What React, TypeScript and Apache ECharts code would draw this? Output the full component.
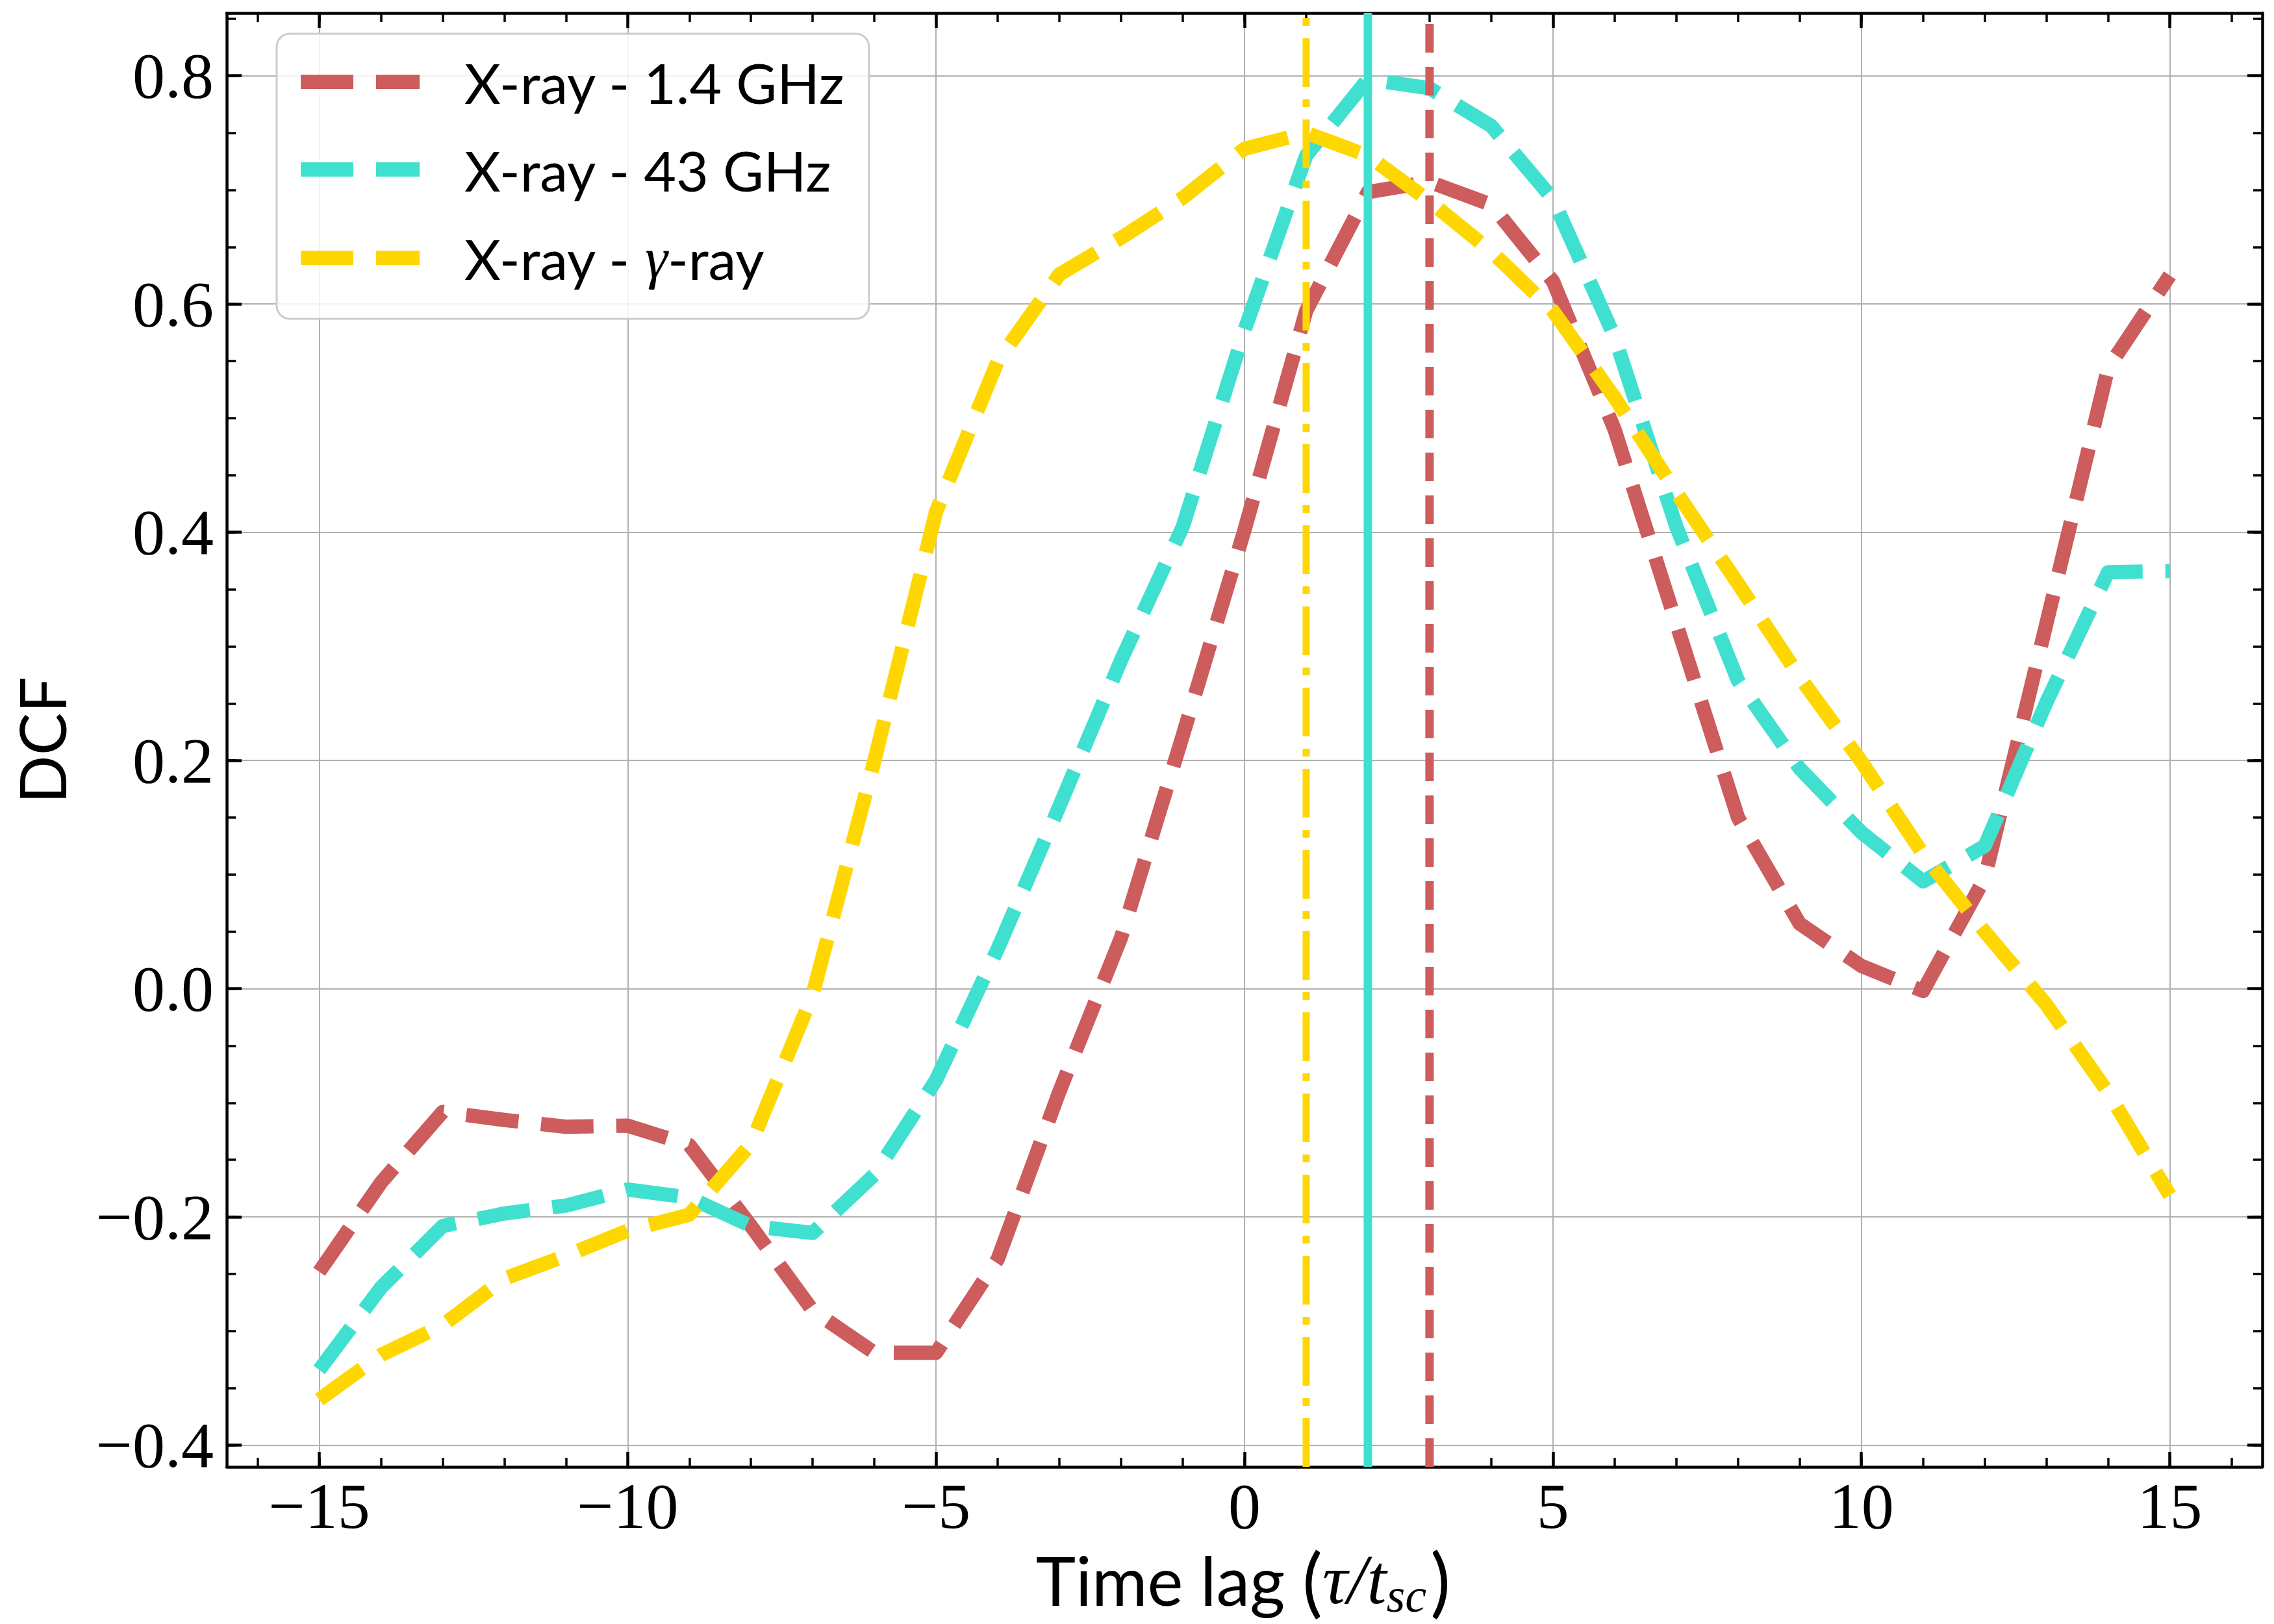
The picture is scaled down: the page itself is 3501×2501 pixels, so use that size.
import React, { useEffect, useRef } from "react";
import * as echarts from "echarts";

// ---- data ----
const lags = [-15, -14, -13, -12, -11, -10, -9, -8, -7, -6, -5, -4, -3, -2, -1, 0, 1, 2, 3, 4, 5, 6, 7, 8, 9, 10, 11, 12, 13, 14, 15];
const dcfXray14GHz = [-0.248, -0.17, -0.108, -0.115, -0.121, -0.12, -0.137, -0.208, -0.282, -0.319, -0.319, -0.237, -0.09, 0.045, 0.222, 0.402, 0.594, 0.698, 0.707, 0.687, 0.62, 0.49, 0.32, 0.15, 0.057, 0.02, -0.002, 0.097, 0.32, 0.544, 0.625];
const dcfXray43GHz = [-0.334, -0.262, -0.208, -0.197, -0.19, -0.176, -0.183, -0.208, -0.214, -0.163, -0.08, 0.035, 0.16, 0.288, 0.405, 0.577, 0.73, 0.797, 0.789, 0.756, 0.692, 0.571, 0.405, 0.27, 0.193, 0.137, 0.094, 0.125, 0.251, 0.365, 0.366];
const dcfXrayGamma = [-0.36, -0.321, -0.295, -0.254, -0.234, -0.212, -0.198, -0.136, -0.005, 0.2, 0.418, 0.55, 0.626, 0.658, 0.693, 0.736, 0.75, 0.73, 0.69, 0.646, 0.594, 0.518, 0.435, 0.355, 0.273, 0.199, 0.118, 0.05, -0.014, -0.091, -0.181];
const seriesNames = ["X-ray - 1.4 GHz", "X-ray - 43 GHz", "X-ray - \u03b3-ray"];
const peakLag14GHz = 3;
const peakLag43GHz = 2;
const peakLagGamma = 1;

// ---- axes ----
const xLimits = [-16.5, 16.5];
const yLimits = [-0.419, 0.855];
const xMajorTicks = [-15, -10, -5, 0, 5, 10, 15];
const xMinorTicks = [-16, -15, -14, -13, -12, -11, -10, -9, -8, -7, -6, -5, -4, -3, -2, -1, 0, 1, 2, 3, 4, 5, 6, 7, 8, 9, 10, 11, 12, 13, 14, 15, 16];
const yMajorTicks = [-0.4, -0.2, 0.0, 0.2, 0.4, 0.6, 0.8];
const yMinorTicks = [-0.4, -0.35, -0.3, -0.25, -0.2, -0.15, -0.1, -0.05, 0.0, 0.05, 0.1, 0.15, 0.2, 0.25, 0.3, 0.35, 0.4, 0.45, 0.5, 0.55, 0.6, 0.65, 0.7, 0.75, 0.8, 0.85];

const RED = "#cd5c5c";
const CYAN = "#40e0d0";
const GOLD = "#ffd700";

const SERIF = "'Liberation Serif', 'DejaVu Serif', serif";
const SANS = "Lato, 'Noto Sans', sans-serif";

const minus = (s: string) => s.replace("-", "\u2212");

function App() {
  const ref = useRef<HTMLDivElement>(null);

  useEffect(() => {
    if (!ref.current) return;
    const chart = echarts.init(ref.current, null, { renderer: "svg" });

    const gridLeft = 349;
    const gridRight = 18;
    const gridTop = 20;
    const gridBottom = 242;

    const baseAxis = (pos: string, ticks: number[], major: boolean, showLine: boolean) => ({
      type: "value",
      position: pos,
      min: pos === "left" || pos === "right" ? yLimits[0] : xLimits[0],
      max: pos === "left" || pos === "right" ? yLimits[1] : xLimits[1],
      axisLine: { show: showLine, onZero: false, lineStyle: { color: "#000", width: 4.5 } },
      axisTick: {
        show: true,
        inside: true,
        length: major ? 23 : 14,
        customValues: ticks,
        lineStyle: { color: "#000", width: major ? 4.5 : 3.5 },
      },
      axisLabel: { show: false },
      splitLine: { show: false },
      minorTick: { show: false },
    });

    const xBottomMain: any = baseAxis("bottom", xMajorTicks, true, true);
    xBottomMain.axisLabel = {
      show: true,
      customValues: xMajorTicks,
      formatter: (v: number) => minus(String(v)),
      fontFamily: SERIF,
      fontSize: 100,
      color: "#000",
      margin: 10,
    };
    xBottomMain.splitLine = { show: true, lineStyle: { color: "#b0b0b0", width: 2 } };

    const yLeftMain: any = baseAxis("left", yMajorTicks, true, true);
    yLeftMain.axisLabel = {
      show: true,
      customValues: yMajorTicks,
      formatter: (v: number) => minus(v.toFixed(1) === "-0.0" ? "0.0" : v.toFixed(1)),
      fontFamily: SERIF,
      fontSize: 100,
      color: "#000",
      margin: 20,
    };
    yLeftMain.splitLine = { show: true, lineStyle: { color: "#b0b0b0", width: 2 } };

    const xAxes = [
      xBottomMain,
      baseAxis("bottom", xMinorTicks, false, false),
      baseAxis("top", xMajorTicks, true, true),
      baseAxis("top", xMinorTicks, false, false),
    ];
    const yAxes = [
      yLeftMain,
      baseAxis("left", yMinorTicks, false, false),
      baseAxis("right", yMajorTicks, true, true),
      baseAxis("right", yMinorTicks, false, false),
    ];

    const curve = (name: string, vals: number[], color: string) => ({
      type: "line",
      name,
      data: lags.map((x, i) => [x, vals[i]]),
      symbol: "none",
      showSymbol: false,
      xAxisIndex: 0,
      yAxisIndex: 0,
      lineStyle: { color, width: 22, type: [81, 35], cap: "butt", join: "round" },
      itemStyle: { color },
      z: 3,
    });

    const vline = (name: string, x: number, color: string, width: number, dash: any) => ({
      type: "line",
      name,
      data: [
        [x, yLimits[0]],
        [x, yLimits[1]],
      ],
      symbol: "none",
      showSymbol: false,
      xAxisIndex: 0,
      yAxisIndex: 0,
      lineStyle: { color, width, type: dash, cap: "butt" },
      itemStyle: { color },
      z: 4,
    });

    // legend handle: two dashes of a dashed line (81 on, 35 off, 67 on)
    const dashIcon = "path://M0,0h81v22h-81z M116,0h67v22h-67z";

    const option: any = {
      animation: false,
      backgroundColor: "#ffffff",
      grid: {
        left: gridLeft,
        right: gridRight,
        top: gridTop,
        bottom: gridBottom,
        containLabel: false,
        outerBoundsMode: "none",
      },
      xAxis: xAxes,
      yAxis: yAxes,
      legend: {
        data: seriesNames.map((n) => ({ name: n, icon: dashIcon })),
        orient: "vertical",
        left: 426,
        top: 52,
        padding: [31, 36, 50, 37],
        itemWidth: 183,
        itemHeight: 22,
        itemGap: 49,
        backgroundColor: "rgba(255,255,255,0.85)",
        borderColor: "#cccccc",
        borderWidth: 3,
        borderRadius: 20,
        selectedMode: false,
        formatter: (name: string) =>
          name.indexOf("\u03b3") >= 0 ? "{a|X-ray - }{g|\u03b3}{a|-ray}" : "{a|" + name + "}",
        textStyle: {
          color: "#000",
          padding: [0, 0, 0, 64],
          rich: {
            a: { fontFamily: SANS, fontSize: 86, lineHeight: 100, color: "#000" },
            g: { fontFamily: SERIF, fontStyle: "italic", fontSize: 88, lineHeight: 100, color: "#000" },
          },
        },
      },
      graphic: [
        {
          type: "text",
          x: 64,
          y: 1140,
          rotation: Math.PI / 2,
          style: {
            text: "DCF",
            font: "98px " + SANS,
            lineHeight: 98,
            fill: "#000",
            align: "center",
            verticalAlign: "middle",
          },
        },
        {
          type: "text",
          x: 1914,
          y: 2432,
          style: {
            text: "{s|Time lag }{p|(}{m|\u03c4/t}{sub|sc}{p|)}",
            align: "center",
            verticalAlign: "middle",
            rich: {
              s: { fontFamily: SANS, fontSize: 104, lineHeight: 124, fill: "#000", verticalAlign: "middle" },
              p: { fontFamily: SANS, fontSize: 116, lineHeight: 124, fill: "#000", verticalAlign: "middle" },
              m: { fontFamily: SERIF, fontStyle: "italic", fontSize: 108, lineHeight: 124, fill: "#000", verticalAlign: "middle" },
              sub: { fontFamily: SERIF, fontStyle: "italic", fontSize: 74, lineHeight: 74, fill: "#000", verticalAlign: "bottom", padding: [0, 6, 0, 0] },
            },
          },
        },
      ],
      series: [
        curve(seriesNames[0], dcfXray14GHz, RED),
        curve(seriesNames[1], dcfXray43GHz, CYAN),
        curve(seriesNames[2], dcfXrayGamma, GOLD),
        vline("peak \u03b3-ray", peakLagGamma, GOLD, 11, [75, 19, 12, 19]),
        vline("peak 43 GHz", peakLag43GHz, CYAN, 13, "solid"),
        vline("peak 1.4 GHz", peakLag14GHz, RED, 13, [44, 22]),
      ],
    };

    chart.setOption(option);
    return () => chart.dispose();
  }, []);

  return (
    <div
      ref={ref}
      style={{ position: "fixed", left: 0, top: 0, width: 3501, height: 2501, background: "#fff" }}
    />
  );
}

export default App;
